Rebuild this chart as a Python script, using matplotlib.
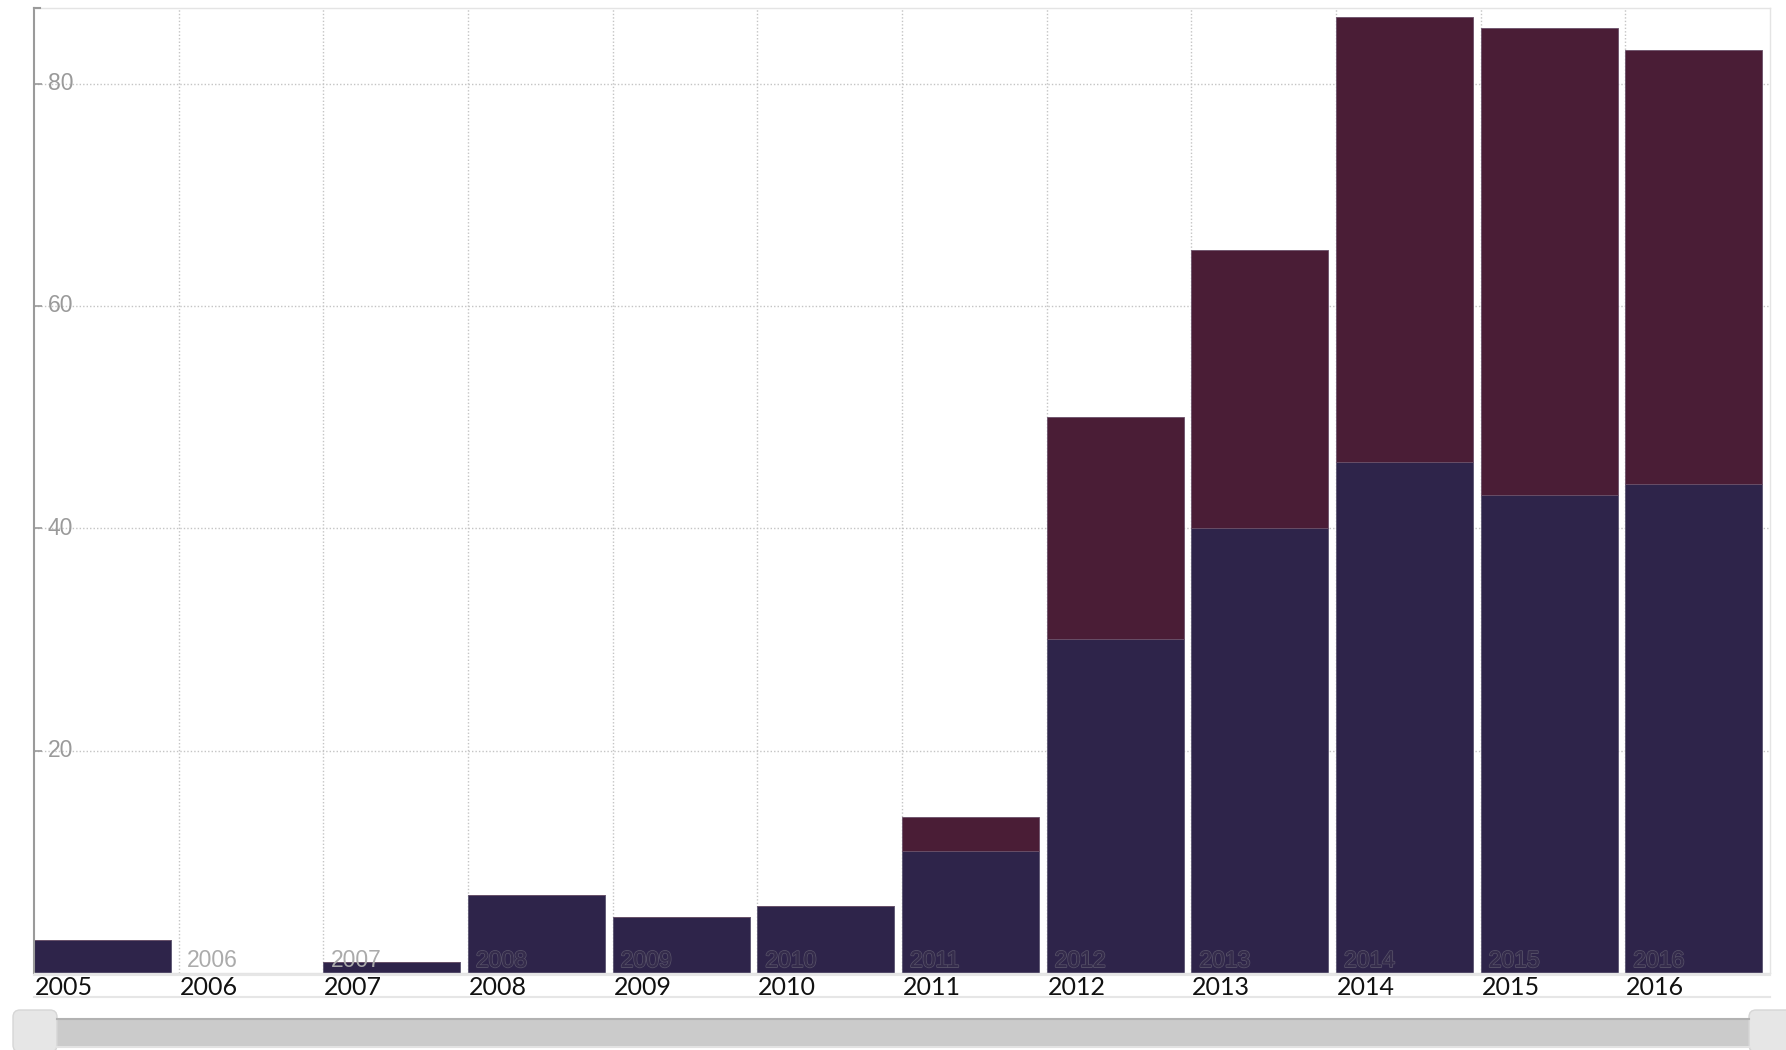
import matplotlib
matplotlib.use("Agg")
import matplotlib.pyplot as plt
from matplotlib.patches import Rectangle, FancyBboxPatch
from matplotlib.lines import Line2D
import matplotlib.patheffects as pe
import matplotlib.transforms as mtransforms

# ---- data ----
years = ["2005", "2006", "2007", "2008", "2009", "2010", "2011",
         "2012", "2013", "2014", "2015", "2016"]
series_a = [3, 0, 1, 7, 5, 6, 11, 30, 40, 46, 43, 44]
series_b = [0, 0, 0, 0, 0, 0, 3, 20, 25, 40, 42, 39]
y_ticks = [20, 40, 60, 80]

color_a = "#2e244a"
color_b = "#4a1d36"

W, H = 1786, 1050
fig = plt.figure(figsize=(W / 100, H / 100), dpi=100)
fig.patch.set_facecolor("white")

def fx(px):
    return px / W

def fy(py):
    return 1 - py / H

ax_l, ax_r, ax_t, ax_b = 34, 1770, 8, 973
ax = fig.add_axes([fx(ax_l), fy(ax_b), fx(ax_r - ax_l), (ax_b - ax_t) / H])
ax.set_xlim(0, len(years))
ax.set_ylim(0, 86.8)

# grid
for i in range(1, len(years)):
    ax.axvline(i, color="#c4c4c4", lw=1, ls=(0, (1, 1.5)), zorder=0)
for t in y_ticks:
    ax.axhline(t, color="#c4c4c4", lw=1, ls=(0, (1, 1.5)), zorder=0)

x = list(range(len(years)))
ax.bar(x, series_a, width=0.947, align="edge", color=color_a,
       edgecolor="#5a5470", linewidth=0.6, zorder=2)
ax.bar(x, series_b, bottom=series_a, width=0.947, align="edge", color=color_b,
       edgecolor="#6a5068", linewidth=0.6, zorder=2)

# spines
for s in ["top", "right", "bottom"]:
    ax.spines[s].set_color("#e4e4e4")
    ax.spines[s].set_linewidth(1)
ax.spines["left"].set_color("#9a9a9a")
ax.spines["left"].set_linewidth(1.5)

ax.set_xticks([])
ax.set_yticks(y_ticks)
ax.set_yticklabels([])
ax.tick_params(axis="y", direction="in", length=6, width=1.2, color="#9a9a9a")

# y tick labels inside the axes
off_y = mtransforms.offset_copy(ax.get_yaxis_transform(), fig=fig, x=14, y=0, units="dots")
for t in y_ticks:
    ax.text(0, t, str(t), transform=off_y, ha="left", va="center",
            fontsize=16.5, color="#9a9a9a", family="Liberation Sans", zorder=4)

# top hook on left axis
fig.add_artist(Line2D([fx(ax_l), fx(ax_l + 6)], [fy(ax_t), fy(ax_t)],
                      color="#9a9a9a", lw=1.5))

# in-bar year labels (none shown for the first category)
off_in = mtransforms.offset_copy(ax.transData, fig=fig, x=8, y=6, units="dots")
for i, yr in enumerate(years):
    if i == 0:
        continue
    if series_a[i] + series_b[i] > 2:
        ax.text(i, 0, yr, transform=off_in, ha="left", va="baseline",
                fontsize=16.5, color="#352c4c", family="Liberation Sans", zorder=5,
                path_effects=[pe.withStroke(linewidth=1.4, foreground="#544e66"),
                              pe.Normal()])
    else:
        ax.text(i, 0, yr, transform=off_in, ha="left", va="baseline",
                fontsize=16.5, color="#ababab", family="Liberation Sans", zorder=5)

# bottom category labels (black)
off_lab = mtransforms.offset_copy(ax.transData, fig=fig, x=1, y=-22, units="dots")
for i, yr in enumerate(years):
    ax.text(i, 0, yr, transform=off_lab, ha="left", va="baseline",
            fontsize=18, color="#111111", family="Lato", clip_on=False)

# light lines under labels
fig.add_artist(Line2D([fx(ax_l), fx(ax_r)], [fy(975), fy(975)], color="#e6e6e6", lw=1.5))
fig.add_artist(Line2D([fx(ax_l), fx(ax_r)], [fy(997), fy(997)], color="#e6e6e6", lw=1.5))

# scrollbar
track = Rectangle((fx(57), fy(1047)), fx(1749 - 57), (1047 - 1019) / H,
                  transform=fig.transFigure, facecolor="#cbcbcb", edgecolor="none")
fig.add_artist(track)
fig.add_artist(Line2D([fx(57), fx(1749)], [fy(1019), fy(1019)], color="#b2b2b2", lw=1.5))
fig.add_artist(Line2D([fx(57), fx(1749)], [fy(1047), fy(1047)], color="#e2e2e2", lw=1.5))
for (l, r) in [(13, 57), (1749, 1800)]:
    h = FancyBboxPatch((l, H - 1052), r - l, 1052 - 1010,
                       boxstyle="round,pad=0,rounding_size=7",
                       transform=None, facecolor="#e6e6e6", edgecolor="#d6d6d6", lw=1)
    fig.add_artist(h)

fig.savefig("out.png", dpi=100, facecolor="white")
